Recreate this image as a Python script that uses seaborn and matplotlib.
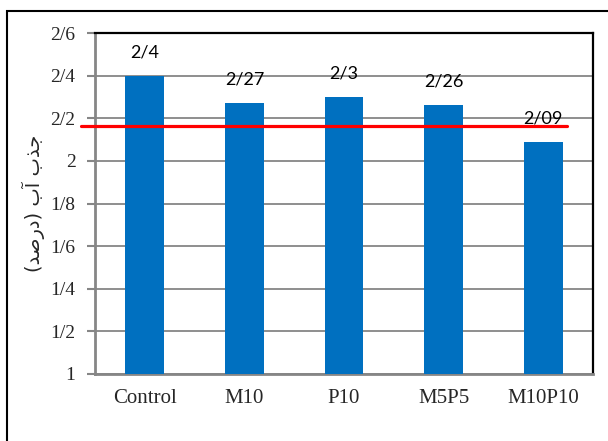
import matplotlib
matplotlib.use("Agg")
import matplotlib.pyplot as plt
import seaborn as sns
from matplotlib.patches import Rectangle

categories = ["Control", "M10", "P10", "M5P5", "M10P10"]
values = [2.40, 2.27, 2.30, 2.26, 2.09]
value_labels = ["2/4", "2/27", "2/3", "2/26", "2/09"]
y_ticks = [1.0, 1.2, 1.4, 1.6, 1.8, 2.0, 2.2, 2.4, 2.6]
y_tick_labels = ["1", "1/2", "1/4", "1/6", "1/8", "2", "2/2", "2/4", "2/6"]
reference_value = 2.165
# "جذب آب (درصد)" in shaped presentation forms, visual order
y_label = "(\uFEAA\uFEBB\uFEAD\uFEA9) \uFE8F\uFE81 \uFE8F\uFEAC\uFE9F"

sns.set_theme(style="white")
fig = plt.figure(figsize=(6.08, 4.41), dpi=100)
ax = fig.add_axes([95/608, 1-374/441, (593-95)/608, (374-33)/441])

sns.barplot(x=categories, y=values, color="#0070C0", saturation=1,
            width=0.39, ax=ax, zorder=3, linewidth=0)

ax.set_ylim(1, 2.6)
ax.set_yticks(y_ticks)
ax.set_yticklabels(y_tick_labels, family="Liberation Serif", fontsize=14)
ax.set_xticks(range(len(categories)))
ax.set_xticklabels(categories, family="Liberation Serif", fontsize=15)
ax.tick_params(axis="y", length=6, width=1.5, color="#868686", pad=8, direction="out", left=True)
ax.tick_params(axis="x", length=0, pad=11)
ax.yaxis.grid(True, color="#868686", linewidth=1.3, zorder=0)
ax.set_axisbelow(True)
for s in ["left", "bottom"]:
    ax.spines[s].set_color("#868686")
    ax.spines[s].set_linewidth(2)
for s in ["top", "right"]:
    ax.spines[s].set_color("black")
    ax.spines[s].set_linewidth(1.6)

ax.set_xlabel("")
ax.set_ylabel(y_label, family=["DejaVu Sans"], fontsize=14, labelpad=4)

for i, (v, lab) in enumerate(zip(values, value_labels)):
    ax.annotate(lab, xy=(i, v), xytext=(0, 17), textcoords="offset points",
                ha="center", va="center", family="Lato", fontsize=13, color="black",
                zorder=5)

ax.axhline(reference_value, xmin=-0.028, xmax=0.948, color="#FF0000",
           linewidth=2.3, clip_on=False, zorder=4)

fig.patches.append(Rectangle((7/608, -0.5), 2, 0.5 + 430/441, transform=fig.transFigure,
                             fill=False, edgecolor="black", linewidth=1.5))

fig.savefig("out.png", dpi=100)
